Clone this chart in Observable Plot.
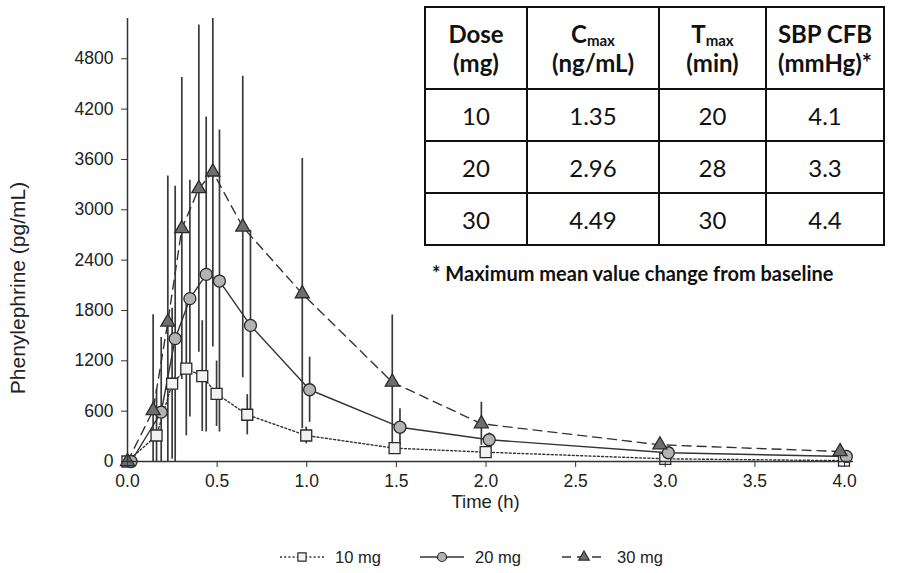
<!DOCTYPE html>
<html><head><meta charset="utf-8">
<script src="https://cdn.jsdelivr.net/npm/d3@7"></script>
<script src="https://cdn.jsdelivr.net/npm/@observablehq/plot@0.6"></script>
<style>
body{margin:0;background:#fff;font-family:"Liberation Sans",Arial,sans-serif;}
#wrap{position:relative;width:907px;height:573px;overflow:hidden;background:#fff;}
#chart{position:absolute;left:0;top:0;}
table.pk{position:absolute;left:424px;top:6px;border-collapse:collapse;font-family:Lato,"Open Sans",sans-serif;color:#111;background:#fff;}
table.pk td, table.pk th{border:2px solid #111;text-align:center;padding:0;}
table.pk th{font-weight:bold;font-size:24px;line-height:29px;height:80px;}
table.pk td{font-size:24px;height:50px;}
table.pk sub{font-size:15px;vertical-align:-3px;line-height:0;}
#foot{position:absolute;left:432px;top:261px;font-family:Lato,"Open Sans",sans-serif;font-weight:bold;font-size:20px;color:#111;white-space:nowrap;}
#ylab{position:absolute;left:18px;top:288px;transform:translate(-50%,-50%) rotate(-90deg);font-size:21px;color:#222;white-space:nowrap;}
.leg{position:absolute;top:548px;height:18px;display:flex;align-items:center;font-size:16.5px;color:#222;white-space:nowrap;}
.leg svg{margin-right:11px;}
</style>
</head><body>
<div id="wrap">
<div id="chart"></div>
<div id="ylab"></div>
<table class="pk" id="tbl"></table>
<div id="foot"></div>
<div id="legend"></div>
</div>
<script>
// ---- data ----
const doseLabels = ["10 mg", "20 mg", "30 mg"];

const time10 = [0, 0.162, 0.249, 0.328, 0.417, 0.497, 0.668, 0.997, 1.49, 1.998, 3.0, 3.997];
const conc10 = [0, 310, 927, 1106, 1018, 807, 557, 310, 159, 111, 32, 10];
const sd10   = [0, 550, 900, 800, 660, 390, 240, 100, 50, 40, 20, 10];

const time20 = [0.02, 0.188, 0.266, 0.348, 0.439, 0.513, 0.686, 1.016, 1.52, 2.018, 3.017, 4.01];
const conc20 = [0, 588, 1464, 1941, 2230, 2151, 1622, 855, 409, 259, 104, 60];
const sd20   = [0, 890, 1816, 1411, 1877, 1800, 1133, 388, 220, 80, 50, 20];

const time30 = [0, 0.143, 0.225, 0.303, 0.398, 0.476, 0.643, 0.975, 1.477, 1.974, 2.97, 3.975];
const conc30 = [0, 608, 1662, 2776, 3253, 3451, 2795, 2000, 946, 450, 199, 119];
const sd30   = [0, 1140, 1740, 1800, 1950, 2087, 1798, 1611, 800, 257, 60, 30];

const xTicks = [0, 0.5, 1, 1.5, 2, 2.5, 3, 3.5, 4];
const yTicks = [0, 600, 1200, 1800, 2400, 3000, 3600, 4200, 4800];

const tableHead = ["Dose<br>(mg)", "C<sub>max</sub><br>(ng/mL)", "T<sub>max</sub><br>(min)", "SBP CFB<br>(mmHg)*"];
const tableDose = ["10", "20", "30"];
const tableCmax = ["1.35", "2.96", "4.49"];
const tableTmax = ["20", "28", "30"];
const tableSbp  = ["4.1", "3.3", "4.4"];
const footnote = "* Maximum mean value change from baseline";
const xLabel = "Time (h)";
const yLabel = "Phenylephrine (pg/mL)";

// ---- build rows ----
const raw = [
  {dose: doseLabels[0], t: time10, c: conc10, sd: sd10},
  {dose: doseLabels[1], t: time20, c: conc20, sd: sd20},
  {dose: doseLabels[2], t: time30, c: conc30, sd: sd30}
];
const rows = raw.flatMap(s => s.t.map((t, i) => ({dose: s.dose, t, c: s.c[i], lo: Math.max(0, s.c[i] - s.sd[i]), hi: s.c[i] + s.sd[i]})));
const by = d => rows.filter(r => r.dose === d);

const style = {
  "10 mg": {dash: "2,2.2", symbol: "square", r: 6.2, fill: "#f2f2f2"},
  "20 mg": {dash: null, symbol: "circle", r: 6, fill: "#b3b3b3"},
  "30 mg": {dash: "9,6", symbol: "triangle", r: 5.2, fill: "#6e6e6e"}
};

const font = "'Liberation Sans', Arial, sans-serif";
const chart = Plot.plot({
  width: 907, height: 540,
  marginLeft: 127, marginRight: 54, marginTop: 18, marginBottom: 79,
  style: {fontFamily: font, fontSize: "17.5px", color: "#222", background: "transparent"},
  x: {domain: [0, 4.05]},
  y: {domain: [0, 5280]},
  marks: [
    Plot.ruleX(rows, {x: "t", y1: "lo", y2: "hi", stroke: "#3a3a3a", strokeWidth: 1.7, clip: true}),
    ...doseLabels.slice().reverse().map(d => Plot.line(by(d), {x: "t", y: "c", stroke: "#333", strokeWidth: 1.4, strokeDasharray: style[d].dash})),
    ...doseLabels.map(d => Plot.dot(by(d), {x: "t", y: "c", symbol: style[d].symbol, r: style[d].r, fill: style[d].fill, stroke: "#2a2a2a", strokeWidth: 1.3})),
    Plot.ruleY([0], {stroke: "#333", strokeWidth: 1.5}),
    Plot.ruleX([0], {stroke: "#333", strokeWidth: 1.5}),
    Plot.axisX({ticks: xTicks, tickFormat: d3.format(".1f"), tickSize: 6, tickPadding: 7, label: null, stroke: "#333"}),
    Plot.axisY({ticks: yTicks, tickFormat: d => String(d), tickSize: 6, tickPadding: 8, label: null, stroke: "#333"}),
    Plot.text([xLabel], {frameAnchor: "bottom", dy: 46, dx: -5, fontSize: 18.5, fill: "#222"})
  ]
});
document.getElementById("chart").appendChild(chart);
document.getElementById("ylab").textContent = yLabel;

// ---- table ----
const tbl = document.getElementById("tbl");
const widths = [100, 130, 105, 116];
let html = "<tr>" + tableHead.map((h, i) => `<th style="width:${widths[i]}px">${h}</th>`).join("") + "</tr>";
tableDose.forEach((d, i) => {
  html += `<tr><td>${d}</td><td>${tableCmax[i]}</td><td>${tableTmax[i]}</td><td>${tableSbp[i]}</td></tr>`;
});
tbl.innerHTML = html;
document.getElementById("foot").textContent = footnote;

// ---- legend ----
const legend = document.getElementById("legend");
const legLeft = [280, 420, 562];
doseLabels.forEach((d, i) => {
  const s = style[d];
  const div = document.createElement("div");
  div.className = "leg";
  div.style.left = legLeft[i] + "px";
  const sym = d3.symbol(s.symbol === "square" ? d3.symbolSquare : s.symbol === "circle" ? d3.symbolCircle : d3.symbolTriangle, Math.PI * (s.r * 0.75) ** 2)();
  div.innerHTML = `<svg width="44" height="18"><line x1="0" x2="44" y1="9" y2="9" stroke="#333" stroke-width="1.4" ${s.dash ? `stroke-dasharray="${s.dash}"` : ""}/><path d="${sym}" transform="translate(22,9)" fill="${s.fill}" stroke="#2a2a2a" stroke-width="1.2"/></svg><span>${d}</span>`;
  legend.appendChild(div);
});
</script>
</body></html>
